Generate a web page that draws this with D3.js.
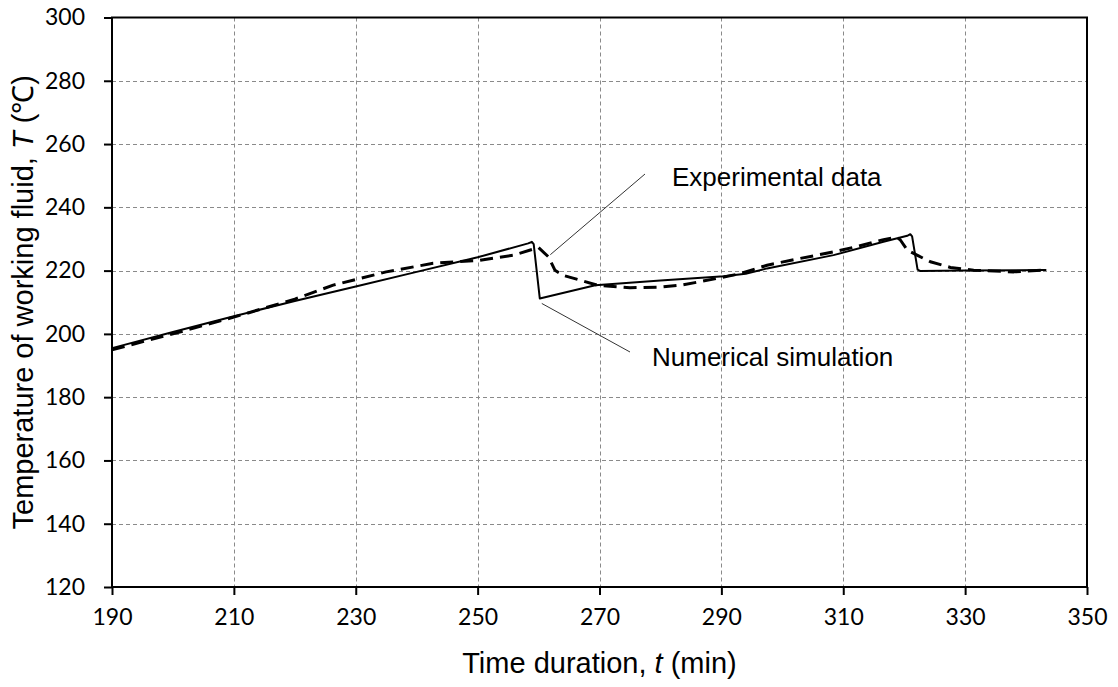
<!DOCTYPE html>
<html>
<head>
<meta charset="utf-8">
<script src="https://cdn.jsdelivr.net/npm/d3@7"></script>
<style>
  body { margin: 0; background: #fff; }
  svg { display: block; }
</style>
</head>
<body>
<svg id="chart" width="1118" height="687"></svg>
<script>
// Numerical simulation (solid line): time (min) and temperature (℃)
const simTime = [190, 200, 210, 220, 230, 240, 250, 258.3, 258.9, 259.2, 260.2,
                 269.3, 280, 290.4, 294, 297.5, 308.4, 316.6, 320.5, 321.0, 321.3,
                 322.2, 322.6, 330, 343.2];
const simTemp = [195.5, 200.6, 205.6, 210.4, 215.0, 219.6, 224.2, 228.6, 229.1, 228.4, 211.2,
                 215.4, 216.9, 218.2, 219.0, 220.7, 224.9, 229.1, 231.0, 231.5, 230.8,
                 220.3, 219.9, 220.0, 220.2];

// Experimental data (dashed line)
const expTime = [190, 200, 210, 220, 226.3, 235, 242.7, 250.4, 255.9, 260.0, 261.6,
                 262.7, 264, 266.8, 269.6, 275, 280, 283.3, 286.5, 290, 293, 297.5,
                 302, 308.4, 312, 316.6, 318.8, 319.4, 320.5, 322.1, 324.3, 327.6,
                 331.4, 338, 343.2];
const expTemp = [195.0, 200.0, 205.3, 211.0, 215.4, 219.6, 222.3, 223.3, 224.9, 227.3, 224.4,
                 220.1, 218.5, 217.0, 215.4, 214.6, 214.8, 215.4, 216.5, 217.8, 219.0, 221.7,
                 223.5, 225.9, 227.5, 229.8, 230.6, 229.6, 226.5, 224.9, 222.8, 221.0,
                 220.1, 219.6, 220.2];

// Axis ticks
const xTicks = [190, 210, 230, 250, 270, 290, 310, 330, 350];
const yTicks = [120, 140, 160, 180, 200, 220, 240, 260, 280, 300];

// Callout labels and the data point each one points at (t, T)
const calloutText = ["Experimental data", "Numerical simulation"];
const calloutAt = [[261.6, 224.4], [260.2, 211.2]];

const svg = d3.select("#chart");
const pL = 112, pT = 17.5, pR = 1087, pB = 587;

const x = d3.scaleLinear().domain([190, 350]).range([pL, pR]);
const y = d3.scaleLinear().domain([120, 300]).range([pB, pT]);

// Grid
const grid = svg.append("g").attr("stroke", "#8a8a8a").attr("stroke-width", 1)
  .attr("stroke-dasharray", "4,3").attr("fill", "none");
grid.selectAll("line.h").data(yTicks.slice(1, -1)).join("line")
  .attr("x1", pL).attr("x2", pR)
  .attr("y1", d => Math.round(y(d)) + 0.5).attr("y2", d => Math.round(y(d)) + 0.5);
grid.selectAll("line.v").data(xTicks.slice(1, -1)).join("line")
  .attr("y1", pT).attr("y2", pB)
  .attr("x1", d => Math.round(x(d)) + 0.5).attr("x2", d => Math.round(x(d)) + 0.5);

// Series
const line = d3.line().x(d => x(d[0])).y(d => y(d[1]));
const simPts = simTime.map((t, i) => [t, simTemp[i]]);
const expPts = expTime.map((t, i) => [t, expTemp[i]]);

svg.append("path").datum(simPts).attr("d", line)
  .attr("fill", "none").attr("stroke", "#000").attr("stroke-width", 2)
  .attr("stroke-linejoin", "round").attr("stroke-linecap", "round");
svg.append("path").datum(expPts).attr("d", line)
  .attr("fill", "none").attr("stroke", "#000").attr("stroke-width", 3)
  .attr("stroke-dasharray", "13,7").attr("stroke-linejoin", "round");

// Frame
svg.append("rect").attr("x", pL).attr("y", pT)
  .attr("width", pR - pL).attr("height", pB - pT)
  .attr("fill", "none").attr("stroke", "#000").attr("stroke-width", 2);

// Axes
const xAxis = svg.append("g").attr("transform", `translate(0,${pB})`)
  .call(d3.axisBottom(x).tickValues(xTicks).tickFormat(d3.format("d"))
    .tickSizeInner(8).tickSizeOuter(0).tickPadding(14));
const yAxis = svg.append("g").attr("transform", `translate(${pL},0)`)
  .call(d3.axisLeft(y).tickValues(yTicks).tickFormat(d3.format("d"))
    .tickSizeInner(8).tickSizeOuter(0).tickPadding(19));
[xAxis, yAxis].forEach(g => {
  g.select(".domain").remove();
  g.selectAll(".tick line").attr("stroke", "#000").attr("stroke-width", 2);
  g.selectAll(".tick text").attr("fill", "#000")
    .style("font-family", "Lato, 'Open Sans', sans-serif").style("font-size", "23px");
});

// Axis titles
svg.append("text").attr("x", (pL + pR) / 2).attr("y", 673)
  .attr("text-anchor", "middle")
  .style("font-family", "'Liberation Sans', Arial, sans-serif").style("font-size", "29px")
  .call(t => {
    t.append("tspan").text("Time duration, ");
    t.append("tspan").style("font-style", "italic").text("t");
    t.append("tspan").text(" (min)");
  });

svg.append("text")
  .attr("transform", `translate(33,${(pT + pB) / 2}) rotate(-90)`)
  .attr("text-anchor", "middle")
  .style("font-family", "'Liberation Sans', Arial, sans-serif").style("font-size", "29px")
  .call(t => {
    t.append("tspan").text("Temperature of working fluid, ");
    t.append("tspan").style("font-style", "italic").text("T");
    t.append("tspan").text(" (℃)");
  });

// Callouts
const calloutEnd = [[645, 174], [630, 352]];
const calloutPos = [[672, 186], [652, 366]];
const calloutNudge = [[2, -2], [2, 5]];
calloutText.forEach((txt, i) => {
  const a = calloutAt[i];
  svg.append("line")
    .attr("x1", x(a[0]) + calloutNudge[i][0]).attr("y1", y(a[1]) + calloutNudge[i][1])
    .attr("x2", calloutEnd[i][0]).attr("y2", calloutEnd[i][1])
    .attr("stroke", "#333").attr("stroke-width", 1);
  svg.append("text").attr("x", calloutPos[i][0]).attr("y", calloutPos[i][1])
    .style("font-family", "'Liberation Sans', Arial, sans-serif").style("font-size", "26px")
    .text(txt);
});
</script>
</body>
</html>
